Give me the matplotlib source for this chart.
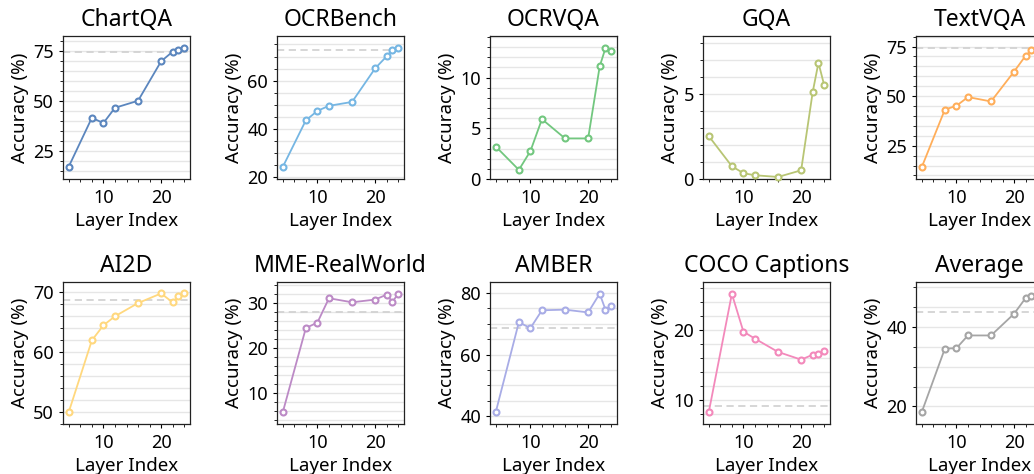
import matplotlib
matplotlib.use("Agg")
import matplotlib.pyplot as plt
from matplotlib.ticker import AutoMinorLocator, MultipleLocator

plt.rcParams['font.family'] = ['Noto Sans', 'DejaVu Sans']

layers = [4, 8, 10, 12, 16, 20, 22, 23, 24]

titles = ["ChartQA", "OCRBench", "OCRVQA", "GQA", "TextVQA",
          "AI2D", "MME-RealWorld", "AMBER", "COCO Captions", "Average"]

chartqa = [17.2, 41.5, 38.9, 46.5, 50.0, 69.7, 74.5, 75.4, 76.2]
ocrbench = [24.3, 43.6, 47.5, 49.6, 51.2, 65.1, 70.1, 72.8, 73.6]
ocrvqa = [3.2, 0.9, 2.75, 5.9, 4.0, 4.0, 11.1, 12.9, 12.6]
gqa = [2.52, 0.75, 0.34, 0.22, 0.12, 0.51, 5.1, 6.83, 5.5]
textvqa = [14.2, 43.2, 45.1, 49.5, 47.3, 62.4, 70.4, 73.1, 74.3]
ai2d = [50.0, 61.9, 64.4, 65.9, 68.1, 69.7, 68.2, 69.2, 69.7]
mme = [5.7, 24.4, 25.6, 31.0, 30.1, 30.7, 31.8, 30.2, 32.0]
amber = [41.3, 70.5, 68.6, 74.4, 74.6, 73.7, 79.8, 74.6, 75.9]
coco = [8.2, 25.1, 19.7, 18.7, 16.8, 15.7, 16.4, 16.5, 16.9]
average = [18.6, 34.5, 34.6, 37.8, 37.8, 43.25, 47.2, 47.7, 48.2]

series = [chartqa, ocrbench, ocrvqa, gqa, textvqa, ai2d, mme, amber, coco, average]

baselines = [74.5, 72.9, None, None, 74.5, 68.6, 28.0, 68.7, 9.1, 43.7]

ylims = [(11.0, 82.3), (19.3, 78.5), (0.0, 14.1), (0.0, 8.4), (8.2, 80.3),
         (48.0, 71.6), (3.1, 34.6), (37.4, 83.6), (6.5, 26.8), (15.6, 51.2)]

y_major = [25, 20, 5, 5, 25, 10, 10, 20, 10, 20]

colors = ["#5B86BE", "#75B6E3", "#72C77F", "#B8C574", "#FFAE5A",
          "#FFD87E", "#BC8AC6", "#A8ACE6", "#F389BB", "#A5A5A5"]

W, H = 1034, 474
fig = plt.figure(figsize=(W / 100, H / 100), dpi=100)

col_left = [63, 277, 490, 703, 916]
ax_w = 127
rows = [(36, 179), (282, 424)]

for i in range(10):
    r, c = divmod(i, 5)
    top, bot = rows[r]
    ax = fig.add_axes([col_left[c] / W, 1 - bot / H, ax_w / W, (bot - top) / H])
    ax.set_xlim(3, 25)
    ax.set_ylim(*ylims[i])
    ax.yaxis.set_major_locator(MultipleLocator(y_major[i]))
    ax.xaxis.set_major_locator(MultipleLocator(10))
    ax.xaxis.set_minor_locator(AutoMinorLocator())
    ax.yaxis.set_minor_locator(AutoMinorLocator())
    ax.grid(True, which='both', axis='y', color='#e6e6e6', lw=1.0, zorder=0)
    ax.set_axisbelow(True)
    if baselines[i] is not None:
        ax.axhline(baselines[i], color='#d3d3d3', lw=1.3, ls=(0, (4, 2.5)), zorder=1)
    ax.plot(layers, series[i], color=colors[i], lw=1.3, marker='o', ms=4.3,
            mfc='white', mec=colors[i], mew=1.5, zorder=3, clip_on=False)
    ax.set_title(titles[i], fontsize=16.5, pad=7.5)
    ax.set_xlabel("Layer Index", fontsize=13.5, labelpad=3)
    ax.set_ylabel("Accuracy (%)", fontsize=13.5, labelpad=3)
    ax.tick_params(axis='both', which='major', labelsize=13, length=3, width=0.8)
    ax.tick_params(axis='x', which='major', pad=4.5)
    ax.tick_params(axis='y', which='major', pad=3.5)
    ax.tick_params(axis='both', which='minor', length=2, width=0.6)
    for s in ax.spines.values():
        s.set_linewidth(0.9)
        s.set_color('#222222')

fig.savefig("out.png", dpi=100)
